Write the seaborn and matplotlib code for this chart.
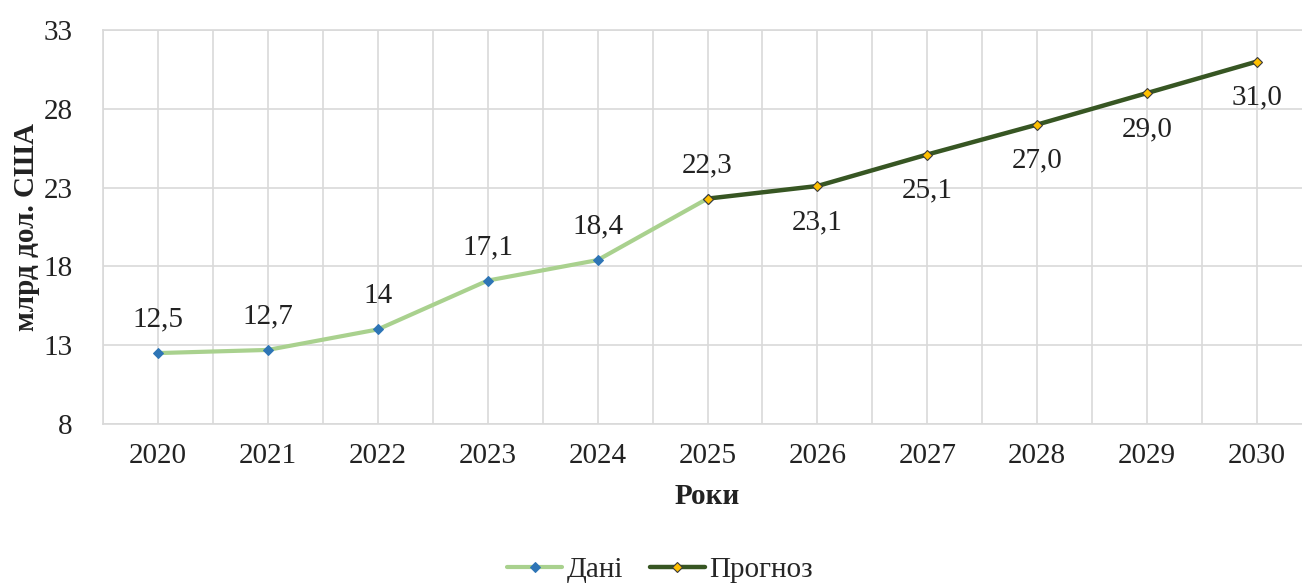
import matplotlib
matplotlib.use("Agg")
import matplotlib.pyplot as plt
import seaborn as sns
import pandas as pd
import numpy as np

years = ["2020", "2021", "2022", "2023", "2024", "2025", "2026", "2027", "2028", "2029", "2030"]
data_years = ["2020", "2021", "2022", "2023", "2024", "2025"]
data_values = [12.5, 12.7, 14.0, 17.1, 18.4, 22.3]
data_labels = ["12,5", "12,7", "14", "17,1", "18,4", "22,3"]
fc_years = ["2025", "2026", "2027", "2028", "2029", "2030"]
fc_values = [22.3, 23.1, 25.1, 27.0, 29.0, 31.0]
fc_labels = ["", "23,1", "25,1", "27,0", "29,0", "31,0"]
y_ticks = [8, 13, 18, 23, 28, 33]

sns.set_theme(style="white")
plt.rcParams['font.family'] = ['Liberation Serif', 'DejaVu Serif']

FS = 21
fig = plt.figure(figsize=(13.02, 5.84), dpi=100)
ax = fig.add_axes([103/1302, 1 - 424/584, (1312-103)/1302, (424-30)/584])

pos = {y: i for i, y in enumerate(years)}
df_d = pd.DataFrame({"x": [pos[y] for y in data_years], "v": data_values})
df_f = pd.DataFrame({"x": [pos[y] for y in fc_years], "v": fc_values})

sns.lineplot(data=df_d, x="x", y="v", ax=ax, color="#a9d18e", linewidth=3,
             marker="D", markersize=5.5, markerfacecolor="#2e75b6",
             markeredgecolor="#2e75b6", label="Дані", zorder=3)
sns.lineplot(data=df_f, x="x", y="v", ax=ax, color="#375623", linewidth=3.2,
             marker="D", markersize=5.5, markerfacecolor="#ffc000",
             markeredgecolor="#3a3a3a", markeredgewidth=0.8, label="Прогноз", zorder=4)

for x, v, lab in zip(df_d["x"], data_values, data_labels):
    ax.annotate(lab, (x, v), xytext=(0, 24), textcoords="offset points",
                ha="center", va="center", fontsize=FS, color="#222222")
for x, v, lab in zip(df_f["x"], fc_values, fc_labels):
    if lab:
        ax.annotate(lab, (x, v), xytext=(0, -26), textcoords="offset points",
                    ha="center", va="center", fontsize=FS, color="#222222")

ax.set_xlim(-0.5, 10.5)
ax.set_ylim(8, 33)
ax.set_yticks(y_ticks)
ax.set_yticklabels([str(t) for t in y_ticks])
ax.set_xticks(range(len(years)))
ax.set_xticklabels(years)
ax.set_xticks(np.arange(-0.5, 10.6, 1.0), minor=True)
ax.grid(True, which="major", color="#d9d9d9", linewidth=1.2)
ax.grid(True, which="minor", axis="x", color="#d9d9d9", linewidth=1.2)
ax.tick_params(axis="both", which="both", length=0, labelsize=FS, labelcolor="#222222")
ax.tick_params(axis="x", pad=14)
ax.tick_params(axis="y", pad=22)
for s in ax.spines.values():
    s.set_color("#d9d9d9")
    s.set_linewidth(1.2)

ax.set_xlabel("Роки", fontsize=FS, fontweight="bold", color="#222222", labelpad=10)
ax.set_ylabel("млрд дол. США", fontsize=FS, fontweight="bold", color="#222222", labelpad=2)

leg = ax.legend(loc="center", bbox_to_anchor=(660/1302, 1 - 570/584),
                bbox_transform=fig.transFigure, ncol=2, frameon=False,
                fontsize=FS, handlelength=1.9, columnspacing=0.9, handletextpad=0.15)

fig.savefig("out.png", dpi=100)
